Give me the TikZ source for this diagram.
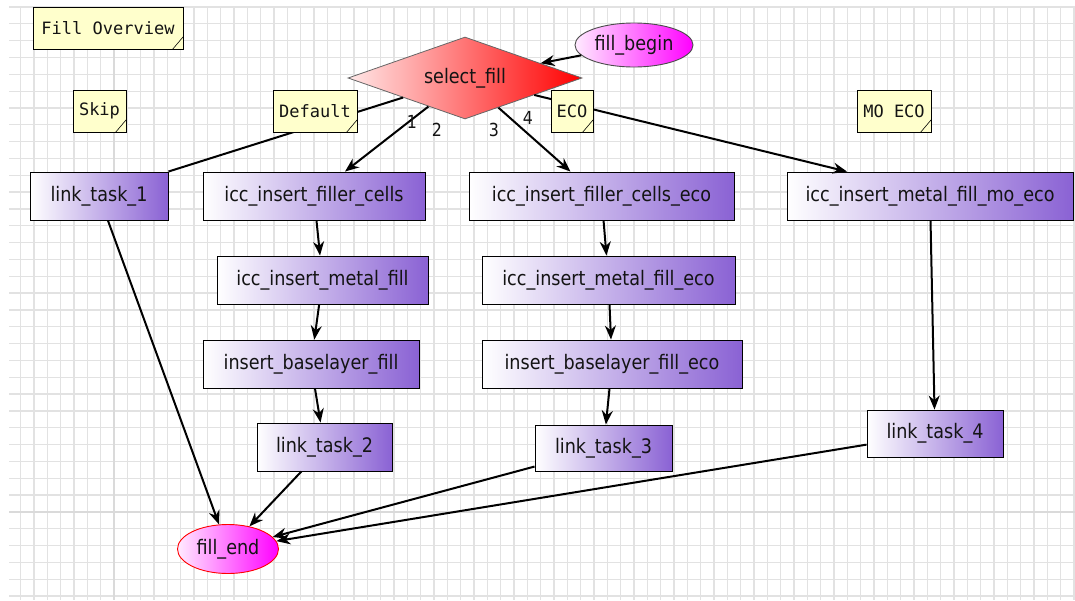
\documentclass[tikz,border=0pt]{standalone}
\usepackage{fontspec}
\newfontfamily\boxfont[FakeStretch=0.88]{DejaVu Sans}
\newfontfamily\notefont{DejaVu Sans Mono}
\usetikzlibrary{shapes.geometric,arrows.meta}
\definecolor{boxpurple}{RGB}{138,98,212}
\definecolor{noteyellow}{RGB}{255,255,204}
\definecolor{gridgray}{RGB}{226,226,226}
\definecolor{gridmaj}{RGB}{218,218,218}
\definecolor{txt}{RGB}{20,20,20}
\definecolor{redend}{RGB}{255,0,0}
\definecolor{redstart}{RGB}{255,232,232}
\definecolor{magend}{RGB}{255,0,255}
\definecolor{magstart}{RGB}{255,235,255}
\begin{document}
\begin{tikzpicture}[x=1pt,y=-1pt,
  gridline/.style={draw=gridgray, line width=1.3pt},
  gridmajor/.style={draw=gridmaj, line width=2.6pt},
  taskbox/.style={rectangle, draw=black, line width=0.9pt, left color=white, right color=boxpurple,
    inner sep=0pt, minimum height=48pt, text=txt, font=\boxfont\fontsize{20}{24}\selectfont},
  decision/.style={diamond, aspect=2.85, draw=black!60, line width=0.8pt, left color=redstart, right color=redend,
    inner sep=0pt, text=txt, font=\boxfont\fontsize{20}{24}\selectfont},
  terminal/.style={ellipse, line width=0.9pt, left color=magstart, right color=magend,
    inner sep=0pt, text=txt, font=\boxfont\fontsize{20}{24}\selectfont},
  note/.style={rectangle, draw=black, line width=0.9pt, fill=noteyellow, inner sep=0pt,
    minimum height=42pt, text=txt, font=\notefont\fontsize{17}{20}\selectfont},
  fold/.style={draw=black, line width=0.6pt},
  flow/.style={draw=black, line width=2pt, -{Stealth[length=14pt,width=11pt]}},
  plainflow/.style={draw=black, line width=2pt},
  branchlabel/.style={text=txt, inner sep=0pt, font=\boxfont\fontsize{18}{20}\selectfont}
]
\useasboundingbox (0,0) rectangle (1075,600);
\fill[white] (0,0) rectangle (1075,600);
% grid
\foreach \k in {1,...,80} \draw[gridline] ({7.3+13.333*\k},7) -- ({7.3+13.333*\k},600);
\foreach \k in {0,...,35} \draw[gridline] (9,{7+16.83*\k}) -- (1075,{7+16.83*\k});
\draw[gridmajor] (114,7) -- (114,600);
\draw[gridmajor] (9,512) -- (1075,512);

% main nodes
\node[decision, minimum width=234pt, minimum height=82pt] (sel) at (465,78) {select\_fill};
\node[terminal, draw=black!70, minimum width=118pt, minimum height=44pt] (fb) at (634,45) {fill\_begin};
\node[terminal, draw=red, minimum width=101pt, minimum height=49pt] (fe) at (228,549) {fill\_end};

\node[taskbox, minimum width=138pt] (lt1) at (99,196) {link\_task\_1};
\node[taskbox, minimum width=222pt] (fc) at (314,196) {icc\_insert\_filler\_cells};
\node[taskbox, minimum width=265pt] (fce) at (601.5,196) {icc\_insert\_filler\_cells\_eco};
\node[taskbox, minimum width=286pt] (mo) at (930,196) {icc\_insert\_metal\_fill\_mo\_eco};
\node[taskbox, minimum width=211pt] (mf) at (322.5,280) {icc\_insert\_metal\_fill};
\node[taskbox, minimum width=253pt] (mfe) at (608.5,280) {icc\_insert\_metal\_fill\_eco};
\node[taskbox, minimum width=216pt] (bl) at (311,364) {insert\_baselayer\_fill};
\node[taskbox, minimum width=260pt] (ble) at (612,364) {insert\_baselayer\_fill\_eco};
\node[taskbox, minimum width=135pt] (lt2) at (324.5,447) {link\_task\_2};
\node[taskbox, minimum width=137pt, minimum height=46pt] (lt3) at (603.5,448) {link\_task\_3};
\node[taskbox, minimum width=136pt, minimum height=47pt] (lt4) at (935,433.5) {link\_task\_4};

% connectors
\draw[flow] (fb) -- (sel);
\draw[plainflow] (sel) -- (lt1.north east);
\draw[flow] (sel) -- ([xshift=31pt]fc.north);
\draw[flow] (sel) -- ([xshift=-31pt]fce.north);
\draw[flow] (sel) -- ([xshift=-83pt]mo.north);
\draw[flow] (fc) -- (mf);
\draw[flow] (mf) -- (bl);
\draw[flow] (bl) -- (lt2);
\draw[flow] (fce) -- (mfe);
\draw[flow] (mfe) -- (ble);
\draw[flow] (ble) -- (lt3);
\draw[flow] (mo) -- (lt4);
\draw[flow] (lt1) -- (fe);
\draw[flow] (lt2) -- (fe);
\draw[flow] (lt3) -- (fe);
\draw[flow] (lt4) -- (fe);

% branch labels
\node[branchlabel] (b1) at (412,122) {1};
\node[branchlabel] (b2) at (437,130) {2};
\node[branchlabel] (b3) at (494,130) {3};
\node[branchlabel] (b4) at (528,118) {4};

% notes
\node[note, minimum width=150pt] (fo) at (108,28) {Fill Overview};
\node[note, minimum width=53pt] (skip) at (99.5,111) {Skip};
\node[note, minimum width=84pt] (dflt) at (315,111) {Default};
\node[note, minimum width=42pt] (eco) at (572,111) {ECO};
\node[note, minimum width=74pt] (moeco) at (894,111) {MO ECO};
\foreach \n in {fo,skip,dflt,eco,moeco}
  \draw[fold] ([xshift=-11pt]\n.south east) -- ([yshift=13pt]\n.south east);
\end{tikzpicture}
\end{document}
